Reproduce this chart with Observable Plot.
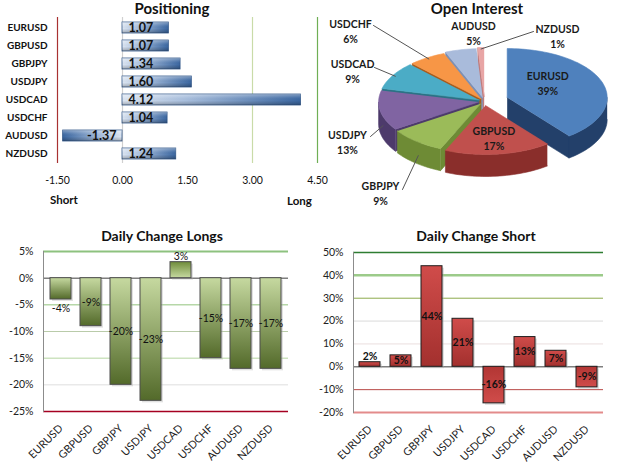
<!DOCTYPE html>
<html>
<head>
<meta charset="utf-8">
<script src="https://cdn.jsdelivr.net/npm/d3@7"></script>
<script src="https://cdn.jsdelivr.net/npm/@observablehq/plot@0.6"></script>
<style>
  body { margin: 0; background: #fff; }
  #board { position: relative; width: 625px; height: 463px; overflow: hidden; font-family: Lato, "Open Sans", sans-serif; color: #111; }
  #board > svg { position: absolute; background: transparent; }
  .title { position: absolute; font-weight: bold; color: #111; text-align: center; white-space: nowrap; }
  .side { position: absolute; font-weight: bold; font-size: 11.5px; color: #111; white-space: nowrap; }
</style>
</head>
<body>
<div id="board"></div>
<script>
// Currency pairs, in the order every panel lists them
const pairs = ["EURUSD", "GBPUSD", "GBPJPY", "USDJPY", "USDCAD", "USDCHF", "AUDUSD", "NZDUSD"];
// Net positioning ratio per pair
const positioning = [1.07, 1.07, 1.34, 1.60, 4.12, 1.04, -1.37, 1.24];
const positioningTicks = [-1.5, 0, 1.5, 3, 4.5];
// Share of open interest (%)
const openInterest = [39, 17, 9, 13, 9, 6, 5, 1];
// Daily change in long and short positions (%)
const changeLongs = [-4, -9, -20, -23, 3, -15, -17, -17];
const changeShort = [2, 5, 44, 21, -16, 13, 7, -9];
const longTicks = [5, 0, -5, -10, -15, -20, -25];
const shortTicks = [50, 40, 30, 20, 10, 0, -10, -20];

// ---- styling -------------------------------------------------------------
const font = "Lato, 'Open Sans', sans-serif";
const positioningGrid = ["#A83232", "#D0D0D0", "none", "#C9DBA8", "#6FAF55"];
const longGrid = ["#8DC27F", "#7F7F7F", "#B6D7A8", "#B9CBA9", "#CDE3C0", "#DEDEDE", "#A50021"];
const longGridW = [2, 1.5, 1.5, 1, 1.5, 1, 1.5];
const shortGrid = ["#2E7D32", "#9CCB8A", "#8DAA4B", "#DADADA", "#EADFDF", "#7F7F7F", "#B94A48", "#E38B8B"];
const shortGridW = [1.5, 2.5, 1, 1, 1, 1.5, 1, 2];

const board = document.getElementById("board");
const rad = Math.PI / 180;

function place(node, left, top) {
  node.style.left = left + "px";
  node.style.top = top + "px";
  board.appendChild(node);
  return node;
}
function addText(cls, text, left, top, width, size) {
  const div = document.createElement("div");
  div.className = cls;
  div.textContent = text;
  if (width) div.style.width = width + "px";
  if (size) { div.style.fontSize = size + "px"; div.style.lineHeight = (size + 2) + "px"; }
  return place(div, left, top);
}
function defsOf(svg) {
  const s = d3.select(svg);
  let d = s.select("defs");
  if (d.empty()) d = s.insert("defs", ":first-child");
  return d;
}
function gradient(svg, id, [x1, y1, x2, y2], stops) {
  const g = defsOf(svg).append("linearGradient").attr("id", id)
    .attr("x1", x1).attr("y1", y1).attr("x2", x2).attr("y2", y2);
  for (const [o, c, a] of stops) g.append("stop").attr("offset", o).attr("stop-color", c).attr("stop-opacity", a == null ? 1 : a);
}
// Paint the rects of the n-th bar mark by the sign of their value
function paintBars(svg, n, values, pos, neg) {
  const group = svg.querySelectorAll('g[aria-label="bar"]')[n];
  d3.select(group).selectAll("rect").attr("fill", function (d, j) {
    const i = typeof d === "number" ? d : j;
    return values[i] >= 0 ? `url(#${pos})` : `url(#${neg})`;
  });
}

// ---- Positioning ---------------------------------------------------------
const posData = pairs.map((pair, i) => ({pair, value: positioning[i]}));
const p1 = Plot.plot({
  width: 335, height: 215,
  marginLeft: 57, marginRight: 18, marginTop: 17, marginBottom: 52,
  style: {fontFamily: font, fontSize: "10px", color: "#111"},
  x: {domain: [-1.5, 4.5]},
  y: {domain: pairs, paddingInner: 0.4, paddingOuter: 0.2},
  marks: [
    ...positioningTicks.map((t, i) => Plot.ruleX([t], {stroke: positioningGrid[i], strokeWidth: 1.2})),
    Plot.axisX({ticks: positioningTicks, tickFormat: d => d.toFixed(2), tickSize: 0, tickPadding: 13, fontSize: 10.5, label: null}),
    Plot.axisY({tickSize: 0, tickPadding: 10, fontWeight: "bold", fontSize: 10, label: null}),
    Plot.barX(posData, {x: "value", y: "pair", fill: "#4F81BD", stroke: "#34598A", strokeWidth: 0.8}),
    Plot.barX(posData, {x: "value", y: "pair", fill: "white"}),
    Plot.text(posData.filter(d => d.value >= 0), {x: d => 0, y: "pair", text: d => d.value.toFixed(2), textAnchor: "start", dx: 6, fontWeight: "bold", fontSize: 12.5, fill: "#111"}),
    Plot.text(posData.filter(d => d.value < 0), {x: d => 0, y: "pair", text: d => d.value.toFixed(2), textAnchor: "end", dx: -6, fontWeight: "bold", fontSize: 12.5, fill: "#111"})
  ]
});
gradient(p1, "posLong", [0, 0, 1, 0], [[0, "#DCE5F1"], [0.35, "#A9BFDD"], [1, "#3A66A0"]]);
gradient(p1, "posShort", [1, 0, 0, 0], [[0, "#DCE5F1"], [0.35, "#A9BFDD"], [1, "#3A66A0"]]);
gradient(p1, "posShine", [0, 0, 0, 1], [[0, "#ffffff", 0.35], [0.35, "#ffffff", 0.05], [0.6, "#000000", 0], [1, "#000000", 0.25]]);
paintBars(p1, 0, positioning, "posLong", "posShort");
paintBars(p1, 1, positioning, "posShine", "posShine");
place(p1, 0, 0);
addText("title", "Positioning", 97, 0, 150, 15);
addText("side", "Short", 50, 193);
addText("side", "Long", 287, 194);

// ---- Open Interest (3-D pie) --------------------------------------------
const pie = {cx: 159, cy: 101, rx: 100, ry: 49, depth: 22};
const pieExplode = [24, 8, 6, 6, 6, 6, 8, 10];
const pieTop = ["#4F81BD", "#C0504D", "#9BBB59", "#8064A2", "#4BACC6", "#F79646", "#A9BBDB", "#E8A5A5"];
const pieSide = ["#23406A", "#8A2E2B", "#6E8B35", "#4D3A6B", "#2B7285", "#A85C1C", "#7D90B4", "#BF7B7B"];
const totalOI = d3.sum(openInterest);
let acc = 0;
const slices = openInterest.map((v, i) => {
  const a0 = acc / totalOI * 360; acc += v;
  const a1 = acc / totalOI * 360;
  const mid = (a0 + a1) / 2, e = pieExplode[i];
  return {i, pair: pairs[i], v, a0, a1, mid, ox: e * Math.sin(mid * rad), oy: -e * Math.cos(mid * rad) * 0.5};
});
function rim(s, a, r = 1, dz = 0) {
  return [pie.cx + s.ox + r * pie.rx * Math.sin(a * rad), pie.cy + s.oy - r * pie.ry * Math.cos(a * rad) + dz];
}
function arcPts(s, from, to, dz) {
  const n = Math.max(2, Math.ceil(Math.abs(to - from) / 2));
  return d3.range(n + 1).map(k => rim(s, from + (to - from) * k / n, 1, dz));
}
// back-to-front: walls first, then the top face of each slice
const polys = [];
for (const s of slices.slice().sort((a, b) => Math.cos(b.mid * rad) - Math.cos(a.mid * rad))) {
  const c0 = rim(s, 0, 0, 0), c1 = rim(s, 0, 0, pie.depth);
  const side = pieSide[s.i], top = pieTop[s.i];
  if (Math.sin(s.a0 * rad) < -1e-6) polys.push({fill: side, pts: [c0, rim(s, s.a0), rim(s, s.a0, 1, pie.depth), c1]});
  if (Math.sin(s.a1 * rad) > 1e-6) polys.push({fill: side, pts: [c0, rim(s, s.a1), rim(s, s.a1, 1, pie.depth), c1]});
  const lo = Math.max(s.a0, 90), hi = Math.min(s.a1, 270);
  if (hi > lo) polys.push({fill: side, pts: [...arcPts(s, lo, hi, 0), ...arcPts(s, hi, lo, pie.depth)]});
  polys.push({fill: top, pts: [c0, ...arcPts(s, s.a0, s.a1, 0)]});
}
const polyRows = polys.flatMap((p, k) => p.pts.map(([x, y]) => ({k, x, y, fill: p.fill})));

// label placement: inside for the two large slices, callouts for the rest
const callouts = [
  {inside: 0.43, dy: -8},
  {inside: 0.66, dy: 0},
  {at: [55, 192], from: [77, 189]},
  {at: [22, 141], from: [45, 136]},
  {at: [27, 70], from: [49, 67]},
  {at: [25, 30], from: [48, 25]},
  {at: [148, 32], from: null},
  {at: [232, 35], from: [208, 31]}
];
const pieLabels = slices.map(s => {
  const c = callouts[s.i];
  const [x, y] = c.at ? c.at : rim(s, s.mid, c.inside);
  return {x, y: c.at ? y : y + c.dy, text: `${s.pair}\n${s.v}%`};
});
const leaderRows = slices.flatMap(s => {
  const c = callouts[s.i];
  if (!c.from) return [];
  const front = Math.cos(s.mid * rad) < 0;
  const end = rim(s, s.mid, 0.97, front ? pie.depth * 0.7 : 0);
  return [{k: s.i, x: c.from[0], y: c.from[1]}, {k: s.i, x: end[0], y: end[1]}];
});
const p2 = Plot.plot({
  width: 300, height: 215, margin: 0,
  style: {fontFamily: font, fontSize: "10px", color: "#111"},
  x: {type: "identity", axis: null},
  y: {type: "identity", axis: null},
  color: {type: "identity"},
  marks: [
    Plot.line(polyRows, {x: "x", y: "y", z: "k", fill: "fill", stroke: "fill", strokeWidth: 0.6, curve: "linear"}),
    Plot.line(leaderRows, {x: "x", y: "y", z: "k", stroke: "#555", strokeWidth: 1}),
    Plot.text(pieLabels, {x: "x", y: "y", text: "text", fontWeight: "bold", fontSize: 10.5, lineHeight: 1.4, fill: "#1a1a1a"})
  ]
});
place(p2, 325, 0);
addText("title", "Open Interest", 402, 0, 150, 15);

// ---- Daily change panels -------------------------------------------------
function changePanel(values, ticks, gridColors, gridWidths, opts) {
  const data = pairs.map((pair, i) => ({pair, value: values[i]}));
  const big = data.filter(d => Math.abs(d.value) >= 5);
  const smallPos = data.filter(d => Math.abs(d.value) < 5 && d.value >= 0);
  const smallNeg = data.filter(d => Math.abs(d.value) < 5 && d.value < 0);
  const textOpts = {x: "pair", text: d => d.value + "%", fontSize: 10.5, fontWeight: opts.labelWeight, fill: "#111"};
  return Plot.plot({
    width: opts.width, height: 248,
    marginLeft: 43, marginRight: opts.marginRight, marginTop: opts.marginTop, marginBottom: opts.marginBottom,
    style: {fontFamily: font, fontSize: "10px", color: "#222"},
    x: {domain: pairs, paddingInner: 0.31, paddingOuter: 0.155},
    y: {domain: [ticks[ticks.length - 1], ticks[0]]},
    marks: [
      ...ticks.map((t, i) => Plot.ruleY([t], {stroke: gridColors[i], strokeWidth: gridWidths[i]})),
      Plot.frame({anchor: "left", stroke: "#8C8C8C"}),
      Plot.axisY({ticks, tickFormat: d => d + "%", tickSize: 0, tickPadding: 10, fontSize: 10.5, label: null}),
      Plot.axisX({tickSize: 0, tickRotate: -45, tickPadding: 15, fontSize: 10.8, label: null}),
      Plot.barY(data, {x: "pair", y: "value", fill: "#aaa", dx: 2, dy: 2, fillOpacity: 0.35}),
      Plot.barY(data, {x: "pair", y: "value", fill: opts.base, stroke: opts.border, strokeWidth: 1}),
      Plot.text(big, {...textOpts, y: d => d.value / 2}),
      Plot.text(smallPos, {...textOpts, y: "value", dy: -6}),
      Plot.text(smallNeg, {...textOpts, y: "value", dy: 9})
    ]
  });
}

const p3 = changePanel(changeLongs, longTicks, longGrid, longGridW,
  {width: 310, marginRight: 22, marginTop: 36, marginBottom: 52, base: "#9BBB59", border: "#4D4D4D", labelWeight: "normal"});
gradient(p3, "longDown", [0, 0, 0, 1], [[0, "#C6D9A0"], [1, "#536A2A"]]);
gradient(p3, "longUp", [0, 1, 0, 0], [[0, "#C6D9A0"], [1, "#6F8C3A"]]);
paintBars(p3, 1, changeLongs, "longUp", "longDown");
place(p3, 0, 215);
addText("title", "Daily Change Longs", 77, 228, 170, 14);

const p4 = changePanel(changeShort, shortTicks, shortGrid, shortGridW,
  {width: 315, marginRight: 22, marginTop: 37, marginBottom: 51, base: "#C0504D", border: "#1F1F1F", labelWeight: "bold"});
gradient(p4, "shortUp", [0, 0, 0, 1], [[0, "#D04C4A"], [1, "#A3302E"]]);
gradient(p4, "shortDown", [0, 0, 0, 1], [[0, "#B23634"], [1, "#D04C4A"]]);
paintBars(p4, 1, changeShort, "shortUp", "shortDown");
place(p4, 310, 215);
addText("title", "Daily Change Short", 391, 228, 170, 14);
</script>
</body>
</html>
